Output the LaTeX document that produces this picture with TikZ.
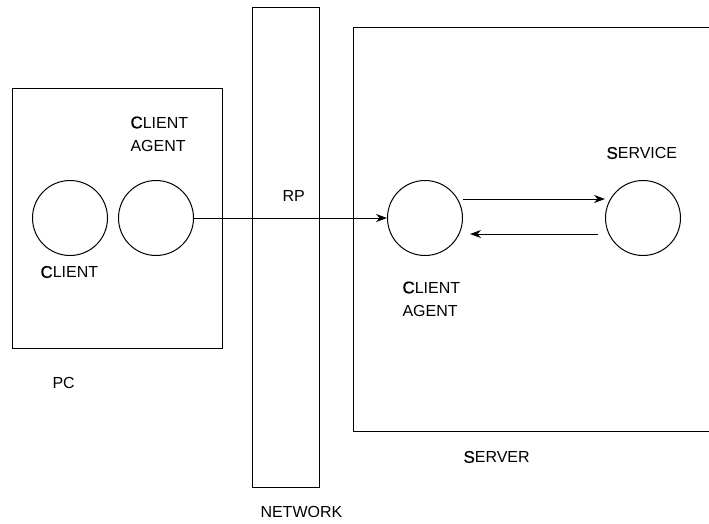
\documentclass[tikz,border=0pt]{standalone}
\usepackage{fontspec}
\setmainfont{Liberation Sans}
\newfontfamily\initfont[FakeBold=0.8]{Liberation Sans}
\usetikzlibrary{arrows.meta}
% first letter set slightly larger and heavier, the rest in plain capitals
\newcommand\initcap[2]{{\fontsize{17}{20}\initfont #1}#2}
\begin{document}
\begin{tikzpicture}[x=1pt,y=-1pt,line width=1pt,
  box/.style={draw,rectangle,inner sep=0,anchor=north west},
  proc/.style={draw,circle,minimum size=75pt,inner sep=0},
  lbl/.style={inner sep=0,anchor=west,align=left,font=\fontsize{16}{23}\selectfont},
  flow/.style={-{Stealth[length=11pt,width=8pt]}}]
\useasboundingbox (0,0) rectangle (709,523);

% PC
\node[box,minimum width=210pt,minimum height=260pt] (pc) at (12,88) {};
\node[proc] (client) at (70,218) {};
\node[proc] (cagent) at (156,218) {};
\node[lbl] (lclient) at (40,272) {\initcap{C}{LIENT}};
\node[lbl] (lcagent) at (130,134) {\initcap{C}{LIENT}\\AGENT};
\node[lbl] (lpc) at (52,383) {PC};

% network
\node[box,minimum width=67pt,minimum height=480pt] (net) at (252,7) {};
\node[lbl] (lrp) at (282,196) {RP};
\node[lbl] (lnet) at (260,512) {NETWORK};

% server (its right side runs past the page edge)
\node[box,minimum width=420pt,minimum height=404pt] (server) at (353,27) {};
\node[proc] (sagent) at (425,218) {};
\node[proc] (service) at (643,218) {};
\node[lbl] (lservice) at (606,153) {\initcap{S}{ERVICE}};
\node[lbl] (lsagent) at (402,299) {\initcap{C}{LIENT}\\AGENT};
\node[lbl] (lserver) at (463,457) {\initcap{S}{ERVER}};

% connections
\draw[flow] (cagent.east) -- (sagent.west);
\draw[flow] ([yshift=19pt]sagent.east) -- ([yshift=19pt]service.west);
\draw[flow] ([xshift=-7pt,yshift=-16pt]service.west) -- ([xshift=7pt,yshift=-16pt]sagent.east);
\end{tikzpicture}
\end{document}
